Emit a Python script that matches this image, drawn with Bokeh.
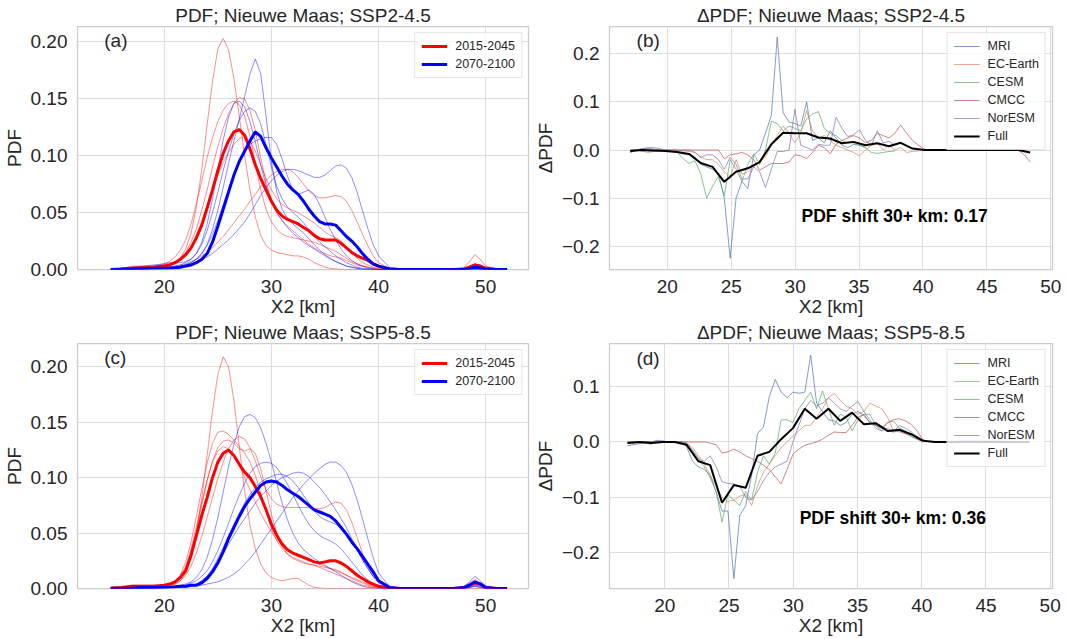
from bokeh.plotting import figure
from bokeh.layouts import column, row
from bokeh.models import (FixedTicker, CustomJSTickFormatter, Label, Legend,
                          LegendItem, Range1d)
from bokeh.embed import file_html
from bokeh.resources import INLINE

# ---------------------------------------------------------------- data
X_PDF = [15, 16, 17, 18, 19,
         20, 20.5, 21, 21.5, 22, 22.5, 23, 23.5, 24, 24.5,
         25, 25.5, 26, 26.5, 27, 27.5, 28, 28.5, 29, 29.5,
         30, 30.5, 31, 31.5, 32, 32.5, 33, 33.5, 34, 34.5,
         35, 35.5, 36, 36.5, 37, 37.5, 38, 38.5, 39, 39.5,
         40, 41, 42, 47, 48, 48.5, 49, 49.5, 50, 51, 52]

# panel (a) SSP2-4.5
A_RED_MEAN = [0.0, 0.0005, 0.001, 0.0015, 0.002,
              0.003, 0.004, 0.006, 0.009, 0.013, 0.019, 0.028, 0.039, 0.054, 0.070,
              0.087, 0.102, 0.113, 0.121, 0.123, 0.118, 0.106, 0.092, 0.080, 0.070,
              0.060, 0.052, 0.047, 0.044, 0.042, 0.040, 0.037, 0.034, 0.030, 0.027,
              0.026, 0.026, 0.026, 0.023, 0.019, 0.015, 0.012, 0.010, 0.008, 0.005,
              0.003, 0.0005, 0.0, 0.0, 0.0005, 0.002, 0.004, 0.003, 0.001, 0.0, 0.0]
A_BLUE_MEAN = [0.0, 0.0002, 0.0005, 0.0008, 0.001,
               0.0012, 0.0013, 0.0015, 0.002, 0.003, 0.004, 0.006, 0.009, 0.014, 0.024,
               0.038, 0.053, 0.068, 0.083, 0.095, 0.104, 0.113, 0.121, 0.117, 0.107,
               0.098, 0.090, 0.082, 0.075, 0.070, 0.066, 0.060, 0.053, 0.047, 0.042,
               0.040, 0.040, 0.039, 0.034, 0.029, 0.025, 0.020, 0.014, 0.009, 0.005,
               0.003, 0.0005, 0.0, 0.0, 0.0003, 0.001, 0.002, 0.0015, 0.0005, 0.0, 0.0]
A_R1 = [0.0, 0.001, 0.002, 0.002, 0.002,
        0.003, 0.004, 0.006, 0.010, 0.018, 0.032, 0.055, 0.088, 0.127, 0.165,
        0.194, 0.203, 0.193, 0.168, 0.135, 0.100, 0.070, 0.046, 0.030, 0.021,
        0.017, 0.015, 0.014, 0.013, 0.012, 0.012, 0.011, 0.009, 0.006, 0.004,
        0.002, 0.001, 0.0005, 0, 0, 0, 0, 0, 0, 0,
        0, 0, 0, 0, 0, 0, 0, 0, 0, 0, 0]
A_R2 = [0.0, 0.0, 0.001, 0.002, 0.003,
        0.004, 0.005, 0.007, 0.010, 0.015, 0.024, 0.036, 0.052, 0.070, 0.090,
        0.108, 0.124, 0.137, 0.146, 0.151, 0.150, 0.140, 0.122, 0.098, 0.077,
        0.061, 0.050, 0.043, 0.038, 0.034, 0.030, 0.026, 0.022, 0.019, 0.016,
        0.014, 0.012, 0.011, 0.010, 0.008, 0.006, 0.004, 0.003, 0.002, 0.001,
        0.0005, 0, 0, 0, 0.001, 0.003, 0.005, 0.004, 0.001, 0, 0]
A_R3 = [0.0, 0.001, 0.003, 0.003, 0.003,
        0.005, 0.007, 0.011, 0.017, 0.026, 0.040, 0.058, 0.078, 0.098, 0.116,
        0.130, 0.140, 0.146, 0.148, 0.145, 0.135, 0.117, 0.093, 0.070, 0.053,
        0.042, 0.035, 0.031, 0.029, 0.028, 0.027, 0.026, 0.025, 0.024, 0.022,
        0.020, 0.018, 0.016, 0.013, 0.010, 0.007, 0.005, 0.003, 0.002, 0.001,
        0, 0, 0, 0, 0.002, 0.007, 0.013, 0.009, 0.003, 0.0005, 0]
A_R4 = [0.0, 0.0, 0.001, 0.001, 0.002,
        0.003, 0.004, 0.005, 0.008, 0.012, 0.019, 0.029, 0.042, 0.056, 0.070,
        0.083, 0.094, 0.103, 0.110, 0.115, 0.117, 0.113, 0.104, 0.092, 0.080,
        0.070, 0.062, 0.057, 0.054, 0.052, 0.050, 0.047, 0.044, 0.041, 0.037,
        0.033, 0.030, 0.028, 0.025, 0.020, 0.015, 0.010, 0.006, 0.004, 0.002,
        0.001, 0, 0, 0, 0, 0.001, 0.002, 0.001, 0, 0, 0]
A_R5 = [0, 0, 0, 0.001, 0.001,
        0.002, 0.002, 0.003, 0.004, 0.005, 0.007, 0.009, 0.012, 0.015, 0.019,
        0.024, 0.029, 0.035, 0.041, 0.047, 0.053, 0.060, 0.066, 0.073, 0.078,
        0.083, 0.086, 0.088, 0.088, 0.086, 0.081, 0.075, 0.069, 0.065, 0.063,
        0.063, 0.064, 0.065, 0.064, 0.060, 0.052, 0.042, 0.031, 0.021, 0.012,
        0.006, 0.001, 0, 0, 0, 0, 0, 0, 0, 0, 0]
A_B1 = [0, 0, 0.001, 0.001, 0.001,
        0.001, 0.002, 0.002, 0.003, 0.004, 0.006, 0.009, 0.014, 0.022, 0.035,
        0.052, 0.072, 0.093, 0.113, 0.132, 0.152, 0.172, 0.185, 0.172, 0.135,
        0.095, 0.068, 0.053, 0.045, 0.040, 0.036, 0.032, 0.027, 0.022, 0.017,
        0.013, 0.010, 0.007, 0.005, 0.003, 0.002, 0.001, 0.0005, 0, 0,
        0, 0, 0, 0, 0, 0.001, 0.003, 0.002, 0.0005, 0, 0]
A_B2 = [0, 0.001, 0.002, 0.003, 0.004,
        0.005, 0.006, 0.006, 0.006, 0.007, 0.009, 0.014, 0.024, 0.040, 0.062,
        0.088, 0.114, 0.134, 0.146, 0.148, 0.143, 0.130, 0.112, 0.092, 0.074,
        0.060, 0.050, 0.043, 0.037, 0.032, 0.028, 0.024, 0.021, 0.018, 0.015,
        0.012, 0.009, 0.007, 0.005, 0.003, 0.002, 0.001, 0, 0, 0,
        0, 0, 0, 0, 0, 0.001, 0.002, 0.001, 0, 0, 0]
A_B3 = [0, 0, 0, 0.001, 0.001,
        0.002, 0.002, 0.003, 0.004, 0.006, 0.009, 0.014, 0.022, 0.034, 0.050,
        0.068, 0.087, 0.104, 0.119, 0.131, 0.139, 0.142, 0.139, 0.128, 0.110,
        0.090, 0.073, 0.062, 0.055, 0.050, 0.046, 0.041, 0.035, 0.029, 0.024,
        0.020, 0.016, 0.012, 0.009, 0.006, 0.004, 0.002, 0.001, 0.0005, 0,
        0, 0, 0, 0, 0.001, 0.002, 0.004, 0.003, 0.001, 0, 0]
A_B4 = [0, 0, 0, 0, 0.001,
        0.001, 0.001, 0.002, 0.003, 0.004, 0.006, 0.009, 0.014, 0.021, 0.031,
        0.043, 0.057, 0.071, 0.084, 0.095, 0.104, 0.110, 0.113, 0.115, 0.116,
        0.116, 0.110, 0.097, 0.082, 0.070, 0.066, 0.068, 0.070, 0.066, 0.057,
        0.046, 0.035, 0.026, 0.018, 0.012, 0.008, 0.005, 0.003, 0.001, 0.0005,
        0, 0, 0, 0, 0, 0, 0, 0, 0, 0, 0]
A_B5 = [0, 0, 0, 0, 0.001,
        0.001, 0.001, 0.002, 0.002, 0.003, 0.004, 0.006, 0.008, 0.011, 0.014,
        0.018, 0.022, 0.026, 0.031, 0.036, 0.042, 0.049, 0.057, 0.065, 0.072,
        0.078, 0.083, 0.086, 0.088, 0.088, 0.087, 0.085, 0.083, 0.081, 0.081,
        0.083, 0.087, 0.091, 0.092, 0.089, 0.081, 0.068, 0.052, 0.036, 0.022,
        0.012, 0.002, 0, 0, 0, 0.001, 0.002, 0.001, 0, 0, 0]

# panel (c) SSP5-8.5
C_RED_MEAN = [0.0005, 0.001, 0.002, 0.002, 0.002,
              0.003, 0.004, 0.006, 0.010, 0.016, 0.030, 0.048, 0.066, 0.082, 0.100,
              0.114, 0.122, 0.125, 0.120, 0.112, 0.105, 0.100, 0.092, 0.083, 0.071,
              0.058, 0.048, 0.040, 0.035, 0.032, 0.030, 0.028, 0.026, 0.024, 0.023,
              0.024, 0.025, 0.025, 0.023, 0.020, 0.016, 0.012, 0.009, 0.006, 0.004,
              0.002, 0.0005, 0, 0, 0.001, 0.003, 0.005, 0.004, 0.001, 0, 0]
C_BLUE_MEAN = [0, 0.0003, 0.0005, 0.0008, 0.001,
               0.001, 0.0012, 0.0015, 0.002, 0.002, 0.003, 0.003, 0.005, 0.009, 0.015,
               0.023, 0.033, 0.045, 0.055, 0.065, 0.074, 0.081, 0.087, 0.093, 0.096,
               0.097, 0.096, 0.093, 0.089, 0.086, 0.083, 0.079, 0.075, 0.071, 0.069,
               0.067, 0.065, 0.061, 0.055, 0.049, 0.042, 0.036, 0.029, 0.022, 0.015,
               0.007, 0.001, 0, 0, 0.001, 0.003, 0.006, 0.004, 0.001, 0, 0]
C_R1 = [0, 0.001, 0.003, 0.003, 0.003,
        0.003, 0.003, 0.004, 0.007, 0.014, 0.028, 0.050, 0.082, 0.120, 0.160,
        0.193, 0.209, 0.200, 0.170, 0.128, 0.088, 0.057, 0.036, 0.022, 0.014,
        0.010, 0.008, 0.007, 0.008, 0.009, 0.009, 0.006, 0.003, 0.001, 0.0005,
        0, 0, 0, 0, 0, 0, 0, 0, 0, 0,
        0, 0, 0, 0, 0, 0.001, 0.003, 0.002, 0, 0, 0]
C_R2 = [0, 0.001, 0.002, 0.002, 0.002,
        0.003, 0.004, 0.006, 0.012, 0.024, 0.042, 0.065, 0.090, 0.113, 0.131,
        0.141, 0.142, 0.139, 0.134, 0.128, 0.122, 0.114, 0.102, 0.086, 0.069,
        0.054, 0.043, 0.036, 0.031, 0.028, 0.026, 0.024, 0.022, 0.021, 0.020,
        0.019, 0.018, 0.017, 0.015, 0.012, 0.009, 0.007, 0.005, 0.003, 0.002,
        0.001, 0, 0, 0, 0.002, 0.005, 0.008, 0.005, 0.001, 0, 0]
C_R3 = [0, 0, 0.001, 0.001, 0.002,
        0.002, 0.003, 0.004, 0.007, 0.012, 0.020, 0.032, 0.047, 0.064, 0.082,
        0.099, 0.114, 0.126, 0.134, 0.137, 0.135, 0.127, 0.115, 0.101, 0.089,
        0.081, 0.076, 0.074, 0.073, 0.073, 0.073, 0.073, 0.073, 0.072, 0.072,
        0.073, 0.076, 0.078, 0.077, 0.071, 0.060, 0.046, 0.032, 0.020, 0.011,
        0.005, 0.001, 0, 0, 0, 0, 0, 0, 0, 0, 0]
C_R4 = [0, 0, 0.001, 0.002, 0.002,
        0.003, 0.004, 0.006, 0.010, 0.018, 0.032, 0.052, 0.075, 0.097, 0.115,
        0.127, 0.133, 0.134, 0.131, 0.126, 0.124, 0.126, 0.122, 0.108, 0.088,
        0.067, 0.050, 0.038, 0.031, 0.027, 0.025, 0.023, 0.022, 0.021, 0.019,
        0.017, 0.015, 0.013, 0.011, 0.009, 0.007, 0.005, 0.003, 0.002, 0.001,
        0.0005, 0, 0, 0, 0.001, 0.002, 0.004, 0.003, 0.001, 0, 0]
C_R5 = [0, 0.001, 0.002, 0.002, 0.002,
        0.003, 0.004, 0.006, 0.011, 0.020, 0.036, 0.056, 0.078, 0.098, 0.114,
        0.124, 0.128, 0.126, 0.120, 0.111, 0.100, 0.089, 0.078, 0.068, 0.059,
        0.051, 0.044, 0.039, 0.035, 0.032, 0.030, 0.028, 0.026, 0.024, 0.022,
        0.020, 0.018, 0.016, 0.014, 0.012, 0.010, 0.008, 0.006, 0.004, 0.002,
        0.001, 0, 0, 0, 0.001, 0.002, 0.003, 0.002, 0.0005, 0, 0]
C_B1 = [0, 0, 0, 0.001, 0.001,
        0.001, 0.002, 0.002, 0.003, 0.004, 0.006, 0.010, 0.017, 0.028, 0.044,
        0.064, 0.087, 0.110, 0.130, 0.146, 0.155, 0.157, 0.154, 0.145, 0.131,
        0.114, 0.095, 0.077, 0.062, 0.050, 0.041, 0.035, 0.031, 0.027, 0.024,
        0.021, 0.018, 0.015, 0.012, 0.009, 0.006, 0.004, 0.002, 0.001, 0.0005,
        0, 0, 0, 0, 0.001, 0.003, 0.005, 0.003, 0.001, 0, 0]
C_B2 = [0, 0, 0, 0, 0.001,
        0.001, 0.001, 0.002, 0.002, 0.003, 0.005, 0.007, 0.011, 0.016, 0.024,
        0.034, 0.046, 0.059, 0.072, 0.084, 0.095, 0.104, 0.110, 0.113, 0.114,
        0.113, 0.109, 0.102, 0.094, 0.085, 0.075, 0.066, 0.058, 0.052, 0.048,
        0.045, 0.043, 0.040, 0.036, 0.030, 0.024, 0.018, 0.012, 0.008, 0.004,
        0.002, 0, 0, 0, 0.002, 0.006, 0.011, 0.007, 0.002, 0, 0]
C_B3 = [0, 0, 0, 0, 0,
        0.001, 0.001, 0.001, 0.002, 0.002, 0.003, 0.004, 0.007, 0.011, 0.017,
        0.024, 0.032, 0.040, 0.048, 0.056, 0.063, 0.070, 0.077, 0.083, 0.088,
        0.093, 0.097, 0.100, 0.102, 0.104, 0.105, 0.104, 0.101, 0.096, 0.091,
        0.085, 0.078, 0.071, 0.063, 0.055, 0.045, 0.035, 0.026, 0.018, 0.011,
        0.006, 0.001, 0, 0, 0.001, 0.003, 0.006, 0.004, 0.001, 0, 0]
C_B4 = [0, 0, 0, 0, 0,
        0.001, 0.001, 0.001, 0.002, 0.002, 0.003, 0.004, 0.007, 0.011, 0.018,
        0.027, 0.037, 0.048, 0.058, 0.068, 0.077, 0.085, 0.091, 0.096, 0.099,
        0.101, 0.103, 0.103, 0.101, 0.097, 0.091, 0.084, 0.077, 0.070, 0.065,
        0.062, 0.060, 0.058, 0.055, 0.050, 0.043, 0.035, 0.026, 0.018, 0.011,
        0.006, 0.001, 0, 0, 0, 0.001, 0.002, 0.001, 0, 0, 0]
C_B5 = [0, 0, 0, 0, 0,
        0.0005, 0.001, 0.001, 0.001, 0.001, 0.002, 0.002, 0.003, 0.004, 0.005,
        0.006, 0.008, 0.010, 0.013, 0.017, 0.022, 0.027, 0.033, 0.040, 0.047,
        0.054, 0.061, 0.068, 0.075, 0.082, 0.088, 0.094, 0.099, 0.104, 0.108,
        0.112, 0.114, 0.114, 0.111, 0.105, 0.094, 0.080, 0.063, 0.045, 0.028,
        0.014, 0.002, 0, 0, 0, 0.001, 0.002, 0.001, 0, 0, 0]

# delta-PDF grids
X_MODEL = [17.10, 17.56, 18.02, 18.48, 18.94, 19.40, 19.86, 20.32, 20.78, 21.24,
           21.70, 22.16, 22.62, 23.08, 23.54, 24.00, 24.46, 24.92, 25.38, 25.84,
           26.30, 26.76, 27.22, 27.68, 28.14, 28.60, 29.06, 29.52, 29.98, 30.44,
           30.90, 31.36, 31.82, 32.28, 32.74, 33.20, 33.66, 34.12, 34.58, 35.04,
           35.50, 35.96, 36.42, 36.88, 37.34, 37.80, 38.26, 38.72, 39.18, 39.64,
           40.10, 40.56, 41.02, 41.48, 41.94, 42.40, 42.86, 43.32, 43.78, 44.24,
           44.70, 45.16, 45.62, 46.08, 46.54, 47.00, 47.46, 47.92, 48.38]
X_FULL = [17.10, 18.02, 18.94, 19.86, 20.78, 21.70, 22.62, 23.54, 24.46, 25.38,
          26.30, 27.22, 28.14, 29.06, 29.98, 30.90, 31.82, 32.74, 33.66, 34.58,
          35.50, 36.42, 37.34, 38.26, 39.18, 40.10, 41.02, 41.94, 42.86, 43.78,
          44.70, 45.62, 46.54, 47.46, 48.38]
MODELS = ["MRI", "EC-Earth", "CESM", "CMCC", "NorESM"]

# panel (b) SSP2-4.5
B_MRI = [-0.005, 0.0, 0.002, 0.003, 0.002, 0.0, -0.002, -0.003, -0.005, -0.008,
         -0.010, -0.015, -0.030, -0.035, -0.040, -0.048, -0.100, -0.225, -0.100, -0.065,
         -0.080, -0.010, 0.000, 0.035, 0.072, 0.235, 0.078, 0.058, 0.055, 0.050,
         0.100, 0.020, 0.025, 0.015, 0.040, 0.025, 0.010, 0.005, 0.012, 0.010,
         0.005]
B_EC = [0.0, 0.0, -0.002, -0.005, -0.003, 0.0, 0.0, 0.0, 0.0, -0.002,
        -0.003, -0.005, -0.015, -0.020, -0.020, -0.030, -0.045, -0.055, -0.020, -0.050,
        -0.045, -0.035, -0.025, -0.015, 0.010, 0.030, 0.050, 0.035, 0.015, 0.035,
        0.082, 0.040, 0.025, 0.030, 0.020, 0.010, 0.005, 0.000, -0.005, -0.012,
        0.000, 0.010, 0.015, 0.000, 0.010, 0.000, 0.005, -0.005, -0.003, -0.002]
B_CESM = [0.0, 0.0, 0.0, -0.002, -0.003, -0.002, 0.0, -0.002, -0.005, -0.018,
          -0.028, -0.022, -0.050, -0.100, -0.075, -0.055, -0.095, -0.020, -0.040, -0.065,
          -0.030, -0.008, -0.030, 0.000, 0.060, 0.055, 0.040, 0.050, 0.045, 0.040,
          0.065, 0.075, 0.080, 0.045, 0.035, 0.030, 0.020, 0.015, 0.015, 0.010,
          0.005, -0.005, -0.007, -0.005, -0.003, -0.002]
B_CMCC = [0, 0, 0, 0, 0, 0, 0, 0, 0, 0,
          0, 0, 0, 0, 0, 0, -0.018, -0.010, -0.008, -0.005,
          -0.010, -0.020, -0.042, -0.035, -0.028, -0.028, -0.028, -0.025, -0.010, -0.012,
          -0.018, -0.005, 0.010, 0.005, -0.008, 0.012, 0.020, 0.025, 0.030, 0.025,
          0.015, 0.020, 0.035, 0.030, 0.025, 0.035, 0.052, 0.035, 0.020, 0.010,
          0.002, 0, 0, 0, 0, 0, 0, 0, 0, 0,
          0, 0, 0, 0, 0, 0, 0, -0.010, -0.025]
B_NOR = [-0.005, 0.0, 0.003, 0.005, 0.005, 0.003, 0.0, 0.0, 0.0, 0.0,
         0.0, -0.005, -0.015, -0.010, -0.010, -0.020, -0.040, -0.015, -0.030, -0.060,
         -0.060, -0.035, -0.045, -0.078, -0.040, -0.003, -0.003, 0.000, 0.085, 0.010,
         0.005, 0.000, 0.012, 0.010, 0.010, 0.068, 0.045, 0.028, 0.032, 0.042,
         0.020, 0.010, 0.040, 0.015, 0.018, 0.010]
B_FULL = [-0.002, 0.0, -0.001, -0.002, -0.004, -0.008, -0.027, -0.035, -0.066, -0.045,
          -0.038, -0.025, 0.012, 0.036, 0.035, 0.035, 0.026, 0.024, 0.014, 0.017,
          0.010, 0.014, 0.008, 0.015, 0.003, 0.0, 0.0, 0.0, 0.0, 0.0,
          0.0, 0.0, 0.0, 0.0, -0.005]

# panel (d) SSP5-8.5
D_MRI = [-0.007, -0.005, -0.003, -0.002, -0.004, 0.002, 0.0, 0.0, 0.0, 0.0,
         -0.008, -0.035, -0.045, -0.050, -0.060, -0.090, -0.125, -0.125, -0.247, -0.133,
         -0.115, -0.060, 0.015, 0.027, 0.082, 0.113, 0.090, 0.080, 0.090, 0.088,
         0.090, 0.157, 0.070, 0.055, 0.040, 0.038, 0.030, 0.035, 0.050, 0.055,
         0.048, 0.035, 0.030, 0.025, 0.020, 0.018, 0.020, 0.015, 0.010, 0.005,
         0.002]
D_EC = [0, 0, 0, 0, 0, 0, 0, 0, 0, 0,
        -0.002, -0.010, -0.025, -0.040, -0.060, -0.080, -0.100, -0.108, -0.105, -0.098,
        -0.095, -0.115, -0.080, -0.055, -0.040, -0.025, -0.010, 0.000, 0.010, 0.020,
        0.030, 0.030, 0.045, 0.060, 0.080, 0.088, 0.075, 0.065, 0.060, 0.050,
        0.055, 0.070, 0.065, 0.060, 0.045, 0.020, 0.018, 0.015, 0.013, 0.008,
        0.002]
D_CESM = [0, 0, 0, 0, 0, 0, 0, 0, 0, 0,
          -0.002, -0.015, -0.030, -0.045, -0.065, -0.090, -0.145, -0.095, -0.105, -0.115,
          -0.090, -0.105, -0.055, -0.025, -0.040, -0.020, 0.040, 0.040, 0.035, 0.060,
          0.075, 0.090, 0.060, 0.092, 0.060, 0.030, 0.050, 0.045, 0.020, 0.040,
          0.050, 0.050, 0.030, 0.020, 0.035, 0.038, 0.025, 0.020, 0.010, 0.005,
          0.0]
D_CMCC = [0, 0, 0, 0, 0, 0, 0, 0, 0, 0,
          0, 0, 0, 0, -0.002, -0.005, -0.020, -0.018, -0.013, -0.018,
          -0.025, -0.030, -0.035, -0.042, -0.050, -0.063, -0.076, -0.050, -0.022, -0.013,
          -0.006, -0.003, 0.000, 0.005, 0.012, 0.018, 0.017, 0.017, 0.030, 0.045,
          0.050, 0.035, 0.030, 0.025, 0.035, 0.040, 0.042, 0.038, 0.032, 0.020,
          0.003]
D_NOR = [-0.003, -0.002, 0.0, 0.0, 0.0, 0.003, 0.002, 0.0, 0.0, 0.0,
         -0.002, -0.015, -0.030, -0.035, -0.025, -0.045, -0.072, -0.075, -0.076, -0.080,
         -0.100, -0.105, -0.090, -0.070, -0.055, -0.045, -0.040, -0.035, 0.000, 0.030,
         0.060, 0.075, 0.065, 0.070, 0.080, 0.070, 0.060, 0.055, 0.065, 0.073,
         0.055, 0.040, 0.025, 0.020, 0.025, 0.018, 0.030, 0.025, 0.018, 0.010,
         0.004, 0.001, 0.001, 0.001, 0.001, 0.001, 0.002, 0.002, 0.002, 0.002,
         0.003, 0.003, 0.003, 0.003, 0.004, 0.004, 0.004, 0.005, 0.005]
D_FULL = [-0.002, 0.0, -0.002, 0.0, 0.0, -0.005, -0.035, -0.042, -0.110, -0.078,
          -0.083, -0.025, -0.018, 0.005, 0.025, 0.060, 0.042, 0.060, 0.038, 0.053,
          0.032, 0.034, 0.020, 0.022, 0.014, 0.002, 0.0, 0.0, 0.0, 0.0,
          0.0, 0.0, 0.0, 0.0, 0.0]

PERIODS = ["2015-2045", "2070-2100"]
PDF_XTICKS = [20, 30, 40, 50]
PDF_YTICKS = [0.0, 0.05, 0.10, 0.15, 0.20]
D_XTICKS = [20, 25, 30, 35, 40, 45, 50]
D_YTICKS = [-0.2, -0.1, 0.0, 0.1, 0.2]

# ---------------------------------------------------------------- style
FONT = "Liberation Sans"
TXT = "#262626"
FS = "19px"
MODEL_COLORS = ["#4c72b0", "#dd8452", "#55a868", "#c44e52", "#8172b3"]


def make_fig(title, xr, yr, w, h, left, right, top, bottom, xticks, yticks, digits, ylabel):
    p = figure(width=w, height=h, x_range=Range1d(*xr), y_range=Range1d(*yr),
               output_backend="svg", toolbar_location=None, title=title,
               min_border_left=left, min_border_right=right,
               min_border_top=top, min_border_bottom=bottom)
    p.background_fill_color = "white"
    p.border_fill_color = "white"
    p.outline_line_color = "#cccccc"
    p.outline_line_width = 1.25
    p.title.text_font = FONT
    p.title.text_font_size = FS
    p.title.text_font_style = "normal"
    p.title.text_color = TXT
    p.title.align = "center"
    p.title.standoff = 1
    for ax in (p.xaxis[0], p.yaxis[0]):
        ax.axis_line_color = None
        ax.major_tick_line_color = None
        ax.minor_tick_line_color = None
        ax.major_label_text_font = FONT
        ax.major_label_text_font_size = FS
        ax.major_label_text_color = TXT
        ax.axis_label_text_font = FONT
        ax.axis_label_text_font_size = FS
        ax.axis_label_text_font_style = "normal"
        ax.axis_label_text_color = TXT
    p.xaxis.major_label_standoff = 4
    p.xaxis.axis_label_standoff = 0
    p.yaxis.major_label_standoff = 4
    p.yaxis.axis_label_standoff = 3
    p.xaxis.axis_label = "X2 [km]"
    p.yaxis.axis_label = ylabel
    p.xaxis.ticker = FixedTicker(ticks=xticks)
    p.yaxis.ticker = FixedTicker(ticks=yticks)
    p.yaxis.formatter = CustomJSTickFormatter(
        code="return tick.toFixed(%d).replace('-', '\\u2212');" % digits)
    p.xgrid.grid_line_color = "#dddddd"
    p.ygrid.grid_line_color = "#dddddd"
    p.xgrid.grid_line_width = 1
    p.ygrid.grid_line_width = 1
    return p


def style_legend(lg):
    lg.location = "top_right"
    lg.label_text_font = FONT
    lg.label_text_font_size = "12.5px"
    lg.label_text_color = TXT
    lg.glyph_width = 26
    lg.glyph_height = 14
    lg.label_height = 14
    lg.label_standoff = 8
    lg.spacing = 4
    lg.padding = 6
    lg.margin = 6
    lg.border_line_color = "#cccccc"
    lg.border_line_width = 1
    lg.background_fill_alpha = 0.8


def add_letter(p, x, y, txt):
    p.add_layout(Label(x=x, y=y, text=txt, text_font=FONT, text_font_size=FS,
                       text_color=TXT, text_baseline="middle", text_align="left"))


def pdf_panel(title, yr, h, top, bottom, reds, blues, red_mean, blue_mean, letter, ly):
    p = make_fig(title, (11.9, 54.0), yr, 531, h, 75, 3, top, bottom,
                 PDF_XTICKS, PDF_YTICKS, 2, "PDF")
    for ys in reds:
        p.line(X_PDF, ys, line_color="#ff0000", line_alpha=0.45, line_width=1)
    for ys in blues:
        p.line(X_PDF, ys, line_color="#0000ff", line_alpha=0.45, line_width=1)
    r1 = p.line(X_PDF, red_mean, line_color="#ff0000", line_width=3)
    r2 = p.line(X_PDF, blue_mean, line_color="#0000ff", line_width=3)
    lg = Legend(items=[LegendItem(label=PERIODS[0], renderers=[r1]),
                       LegendItem(label=PERIODS[1], renderers=[r2])])
    style_legend(lg)
    p.add_layout(lg)
    add_letter(p, 14.4, ly, letter)
    return p


def delta_panel(title, xr, yr, h, top, bottom, series, full, letter, lx, ly, shift_txt, sy):
    p = make_fig(title, xr, yr, 535, h, 68, 14, top, bottom,
                 D_XTICKS, D_YTICKS, 1, "\u0394PDF")
    items = []
    for name, col, ys in zip(MODELS, MODEL_COLORS, series):
        r = p.line(X_MODEL[:len(ys)], ys, line_color=col, line_alpha=0.7, line_width=1)
        items.append(LegendItem(label=name, renderers=[r]))
    rf = p.line(X_FULL[:len(full)], full, line_color="black", line_width=2)
    items.append(LegendItem(label="Full", renderers=[rf]))
    lg = Legend(items=items)
    style_legend(lg)
    p.add_layout(lg)
    add_letter(p, lx, ly, letter)
    p.add_layout(Label(x=30.5, y=sy, text=shift_txt, text_font=FONT, text_font_size="17.5px",
                       text_font_style="bold", text_color="black",
                       text_baseline="middle", text_align="left"))
    return p


pa = pdf_panel("PDF; Nieuwe Maas; SSP2-4.5", (0, 0.2136), 319, 26, 46,
               [A_R1, A_R2, A_R3, A_R4, A_R5], [A_B1, A_B2, A_B3, A_B4, A_B5],
               A_RED_MEAN, A_BLUE_MEAN, "(a)", 0.201)
pb = delta_panel("\u0394PDF; Nieuwe Maas; SSP2-4.5", (15.48, 50.13), (-0.2485, 0.257),
                 319, 26, 46, [B_MRI, B_EC, B_CESM, B_CMCC, B_NOR], B_FULL,
                 "(b)", 17.6, 0.227, "PDF shift 30+ km: 0.17", -0.138)
pc = pdf_panel("PDF; Nieuwe Maas; SSP5-8.5", (0, 0.221), 320, 22, 51,
               [C_R1, C_R2, C_R3, C_R4, C_R5], [C_B1, C_B2, C_B3, C_B4, C_B5],
               C_RED_MEAN, C_BLUE_MEAN, "(c)", 0.208)
pd_ = delta_panel("\u0394PDF; Nieuwe Maas; SSP5-8.5", (15.7, 50.18), (-0.265, 0.178),
                  320, 22, 51, [D_MRI, D_EC, D_CESM, D_CMCC, D_NOR], D_FULL,
                  "(d)", 17.8, 0.151, "PDF shift 30+ km: 0.36", -0.138)

layout = column(row(pa, pb), row(pc, pd_))
open("out.html", "w").write(file_html(layout, INLINE))
